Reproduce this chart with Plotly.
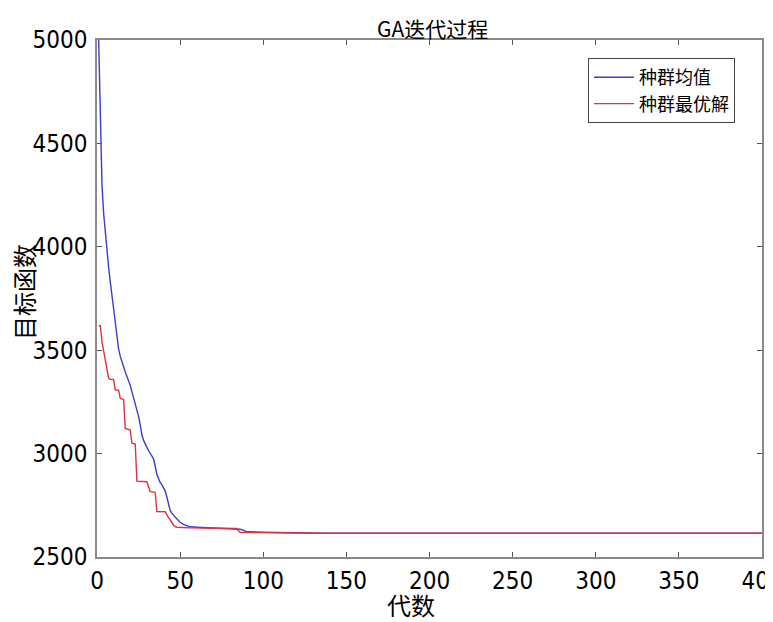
import plotly.graph_objects as go

# Generation numbers and values
mean_gen = [1, 2, 3, 4, 5, 6, 7, 8, 9, 10, 11, 12, 13, 14, 15, 16, 17, 18, 19, 20,
            21, 22, 23, 24, 25, 26, 27, 28, 29, 30, 31, 32, 33, 34, 35, 36, 37, 38, 39, 40,
            41, 42, 43, 44, 45, 46, 47, 48, 49, 50, 52, 54, 56, 60, 70, 80, 84, 86, 88, 90,
            100, 110, 120, 135, 400]
mean_val = [5000, 4560, 4300, 4160, 4060, 3980, 3900, 3830, 3760, 3700, 3630, 3560, 3505, 3470, 3440, 3420, 3395, 3375, 3356, 3330,
            3300, 3270, 3245, 3210, 3180, 3140, 3090, 3065, 3045, 3030, 3015, 3000, 2990, 2975, 2940, 2900, 2880, 2860, 2850, 2835,
            2820, 2790, 2750, 2725, 2712, 2700, 2693, 2685, 2675, 2668, 2658, 2650, 2646, 2644, 2641, 2638, 2636, 2634, 2630, 2622,
            2620, 2619, 2617, 2615, 2615]

best_gen = [1, 2, 3, 4, 5, 6, 7, 8, 10, 11, 13, 14, 16, 17, 19, 20, 21, 23, 24, 30,
            31, 32, 35, 36, 41, 42, 43, 44, 45, 46, 47, 48, 56, 84, 85, 86, 100, 135, 400]
best_val = [3618, 3618, 3540, 3500, 3460, 3420, 3364, 3359, 3359, 3307, 3307, 3267, 3262, 3122, 3117, 3114, 3050, 3046, 2867, 2864,
            2840, 2816, 2813, 2720, 2719, 2700, 2690, 2680, 2665, 2655, 2647, 2644, 2641, 2638, 2628, 2619, 2618, 2615, 2615]

series_names = ["种群均值", "种群最优解"]
x_ticks = [0, 50, 100, 150, 200, 250, 300, 350, 400]
y_ticks = [2500, 3000, 3500, 4000, 4500, 5000]

NUM_FONT = "Liberation Sans Narrow, DejaVu Sans Condensed, Arial Narrow, sans-serif"
CJK_FONT = "Noto Sans CJK SC, sans-serif"

# The page body has an 8px default margin, so the figure is 8px smaller
PAGE = 8
W, H = 773 - PAGE, 622 - PAGE
L, R, T, B = 97 - PAGE, 11, 40 - PAGE, 65
PW, PH = W - L - R, H - T - B


def px(sx):
    """screen x -> paper x"""
    return (sx - PAGE - L) / PW


def py(sy):
    """screen y -> paper y"""
    return (H - B - (sy - PAGE)) / PH


fig = go.Figure()
fig.add_trace(go.Scatter(x=mean_gen, y=mean_val, mode="lines", name=series_names[0],
                         line=dict(color="#3c3cd2", width=1.4)))
fig.add_trace(go.Scatter(x=best_gen, y=best_val, mode="lines", name=series_names[1],
                         line=dict(color="#e0323e", width=1.4)))

axis_common = dict(showline=True, linecolor="#8a8a8a", linewidth=1.5, mirror="ticks",
                   ticks="inside", ticklen=5, tickcolor="#555555", showgrid=False,
                   zeroline=False, automargin=False, ticklabeloverflow="allow",
                   tickfont=dict(family=NUM_FONT, size=24, color="black"))

fig.update_layout(
    width=W, height=H,
    margin=dict(l=L, r=R, t=T, b=B, autoexpand=False),
    paper_bgcolor="white", plot_bgcolor="white",
    xaxis=dict(range=[0, 400], tickvals=x_ticks, ticklabelstandoff=1, **axis_common),
    yaxis=dict(range=[2500, 5000], tickvals=y_ticks, ticklabelstandoff=3, **axis_common),
    legend=dict(x=px(735), xanchor="right", y=py(58), yanchor="top",
                bgcolor="white", bordercolor="#444444", borderwidth=1,
                font=dict(family=CJK_FONT, size=18, color="black"),
                tracegroupgap=0, itemwidth=40),
    showlegend=True,
)

fig.add_annotation(text="GA迭代过程", xref="paper", yref="paper",
                   x=px(432), y=py(28), showarrow=False,
                   xanchor="center", yanchor="middle",
                   font=dict(family=CJK_FONT, size=21, color="black"))
fig.add_annotation(text="代数", xref="paper", yref="paper",
                   x=px(411), y=py(604), showarrow=False,
                   xanchor="center", yanchor="middle",
                   font=dict(family=CJK_FONT, size=24, color="black"))
fig.add_annotation(text="目标函数", xref="paper", yref="paper",
                   x=px(23), y=py(292), showarrow=False,
                   xanchor="center", yanchor="middle", textangle=-90,
                   font=dict(family=CJK_FONT, size=24, color="black"))

fig.write_html("out.html")
